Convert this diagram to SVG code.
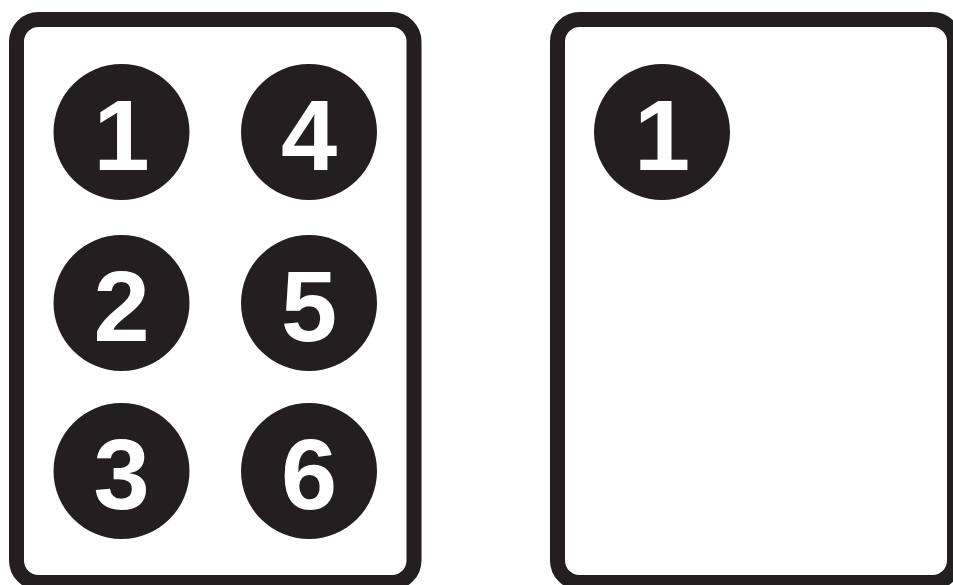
<svg xmlns="http://www.w3.org/2000/svg" width="953" height="585" viewBox="0 0 953 585">
<style>
.frame{fill:#fff;stroke:#231f20;stroke-width:15}
.dot{fill:#231f20}
.num{fill:#fff;font-family:"Liberation Sans",Arial,sans-serif;font-weight:bold;font-size:101px;text-anchor:middle}
</style>
<rect width="953" height="585" fill="#fff"/>
<g id="panel-left">
<rect class="frame" x="16.5" y="19.5" width="397.5" height="563" rx="22" ry="22"/>
</g>
<g id="panel-right">
<rect class="frame" x="557.5" y="19.5" width="397" height="563" rx="22" ry="22"/>
</g>
<g id="n1"><circle class="dot" cx="121.5" cy="132" r="68"/><text class="num" x="121.5" y="170">1</text></g>
<g id="n2"><circle class="dot" cx="121.5" cy="303" r="68"/><text class="num" x="121.5" y="341">2</text></g>
<g id="n3"><circle class="dot" cx="121.5" cy="471" r="68"/><text class="num" x="121.5" y="509">3</text></g>
<g id="n4"><circle class="dot" cx="309" cy="132" r="68"/><text class="num" x="309" y="170">4</text></g>
<g id="n5"><circle class="dot" cx="309" cy="303" r="68"/><text class="num" x="309" y="341">5</text></g>
<g id="n6"><circle class="dot" cx="309" cy="471" r="68"/><text class="num" x="309" y="509">6</text></g>
<g id="r1"><circle class="dot" cx="662" cy="132" r="68"/><text class="num" x="662" y="170">1</text></g>
<g id="connectors"></g>
</svg>
